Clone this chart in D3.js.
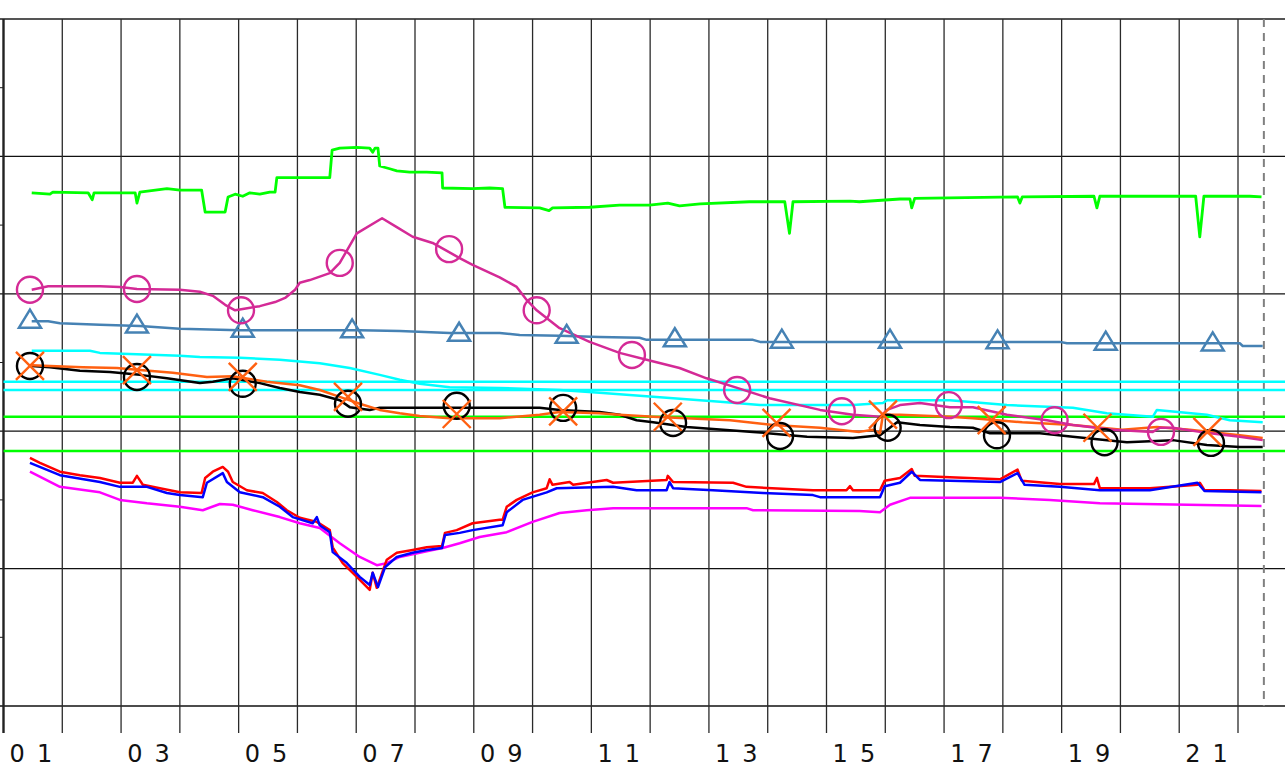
<!DOCTYPE html>
<meta charset="utf-8">
<style>
body { margin: 0; background: #fff; }
svg { display: block; }
.grid line { stroke: #1a1a1a; stroke-width: 1; }
.series { fill: none; stroke-width: 2.5; stroke-linejoin: round; }
.lbl { font: 24px "DejaVu Sans"; letter-spacing: 12px; fill: #111; }
</style>
<svg width="1285" height="768"></svg>
<script src="https://cdn.jsdelivr.net/npm/d3@7/dist/d3.min.js"></script>
<script>
// values: [day, value]
var dayTicks = d3.range(1, 23);
var dayLabels = ["01","03","05","07","09","11","13","15","17","19","21"];
var labelDays = [1,3,5,7,9,11,13,15,17,19,21];
var majorY = [0, 20, 40, 60, 80, 100];
var minorY = [10, 30, 50, 70, 90];
var nowDay = 22.44;
var cyanRefs = [47.2, 46.0];
var greenRefs = [42.1, 37.1];

var greenTop = [[1.48,74.7],[1.79,74.5],[1.84,74.8],[2.44,74.7],[2.51,73.7],[2.54,74.7],[3.24,74.7],[3.27,73.2],[3.32,74.8],
  [3.78,75.3],[4.00,75.1],[4.37,75.1],[4.43,71.9],[4.77,71.9],[4.82,74.1],[4.94,74.5],[5.07,74.2],[5.19,74.7],[5.36,74.5],
  [5.53,74.8],[5.62,74.8],[5.65,76.9],[6.04,76.9],[6.55,76.9],[6.59,80.9],[6.72,81.2],[7.01,81.3],[7.23,81.2],[7.28,80.6],
  [7.32,81.2],[7.37,81.2],[7.40,78.6],[7.57,78.2],[7.69,77.9],[7.91,77.7],[8.20,77.7],[8.46,77.6],[8.47,75.4],[8.98,75.3],
  [9.27,75.4],[9.49,75.3],[9.53,72.6],[10.12,72.5],[10.28,72.1],[10.34,72.5],[10.97,72.6],[11.48,72.9],[11.99,72.9],
  [12.30,73.2],[12.50,72.8],[12.85,73.1],[13.69,73.4],[14.29,73.4],[14.37,68.8],[14.43,73.4],[15.40,73.5],[15.56,73.4],
  [16.25,73.8],[16.42,73.8],[16.45,72.5],[16.50,73.9],[18.25,74.1],[18.29,73.2],[18.33,74.1],[19.55,74.2],[19.60,72.5],
  [19.65,74.2],[21.28,74.2],[21.35,68.3],[21.42,74.2],[22.20,74.2],[22.40,74.1]];

var pinkLine = [[1.48,60.6],[1.76,61.1],[1.96,61.1],[2.64,61.1],[2.98,61.0],[3.27,60.7],[4.00,60.6],[4.34,60.3],[4.56,59.7],
  [4.77,58.4],[4.94,57.6],[5.07,57.8],[5.36,58.2],[5.62,58.8],[5.79,59.4],[5.96,60.6],[6.04,61.6],[6.21,62.0],[6.55,63.0],
  [6.72,64.5],[7.01,68.8],[7.44,71.0],[7.69,69.7],[7.96,68.3],[8.30,67.4],[8.76,65.2],[8.98,64.2],[9.44,62.4],[9.73,61.0],
  [9.90,59.1],[10.07,57.6],[10.46,55.0],[10.97,53.0],[11.48,51.4],[11.94,50.4],[12.50,49.2],[12.96,47.7],[13.48,46.3],
  [14.03,44.8],[14.89,43.1],[15.45,42.4],[15.91,42.1],[16.03,43.1],[16.25,43.8],[16.59,44.1],[17.10,43.5],[17.49,43.5],
  [18.07,42.4],[18.75,41.6],[19.19,40.9],[19.87,40.2],[20.55,39.9],[20.67,40.5],[20.89,40.5],[21.35,39.9],[22.03,39.2],[22.42,38.7]];
var pinkMarks = [[1.45,60.6],[3.27,60.7],[5.04,57.6],[6.72,64.5],[8.58,66.5],[10.07,57.6],[11.69,51.1],[13.48,46.0],
  [15.26,42.9],[17.08,43.8],[18.88,41.6],[20.69,39.9]];

var steelLine = [[1.48,56.0],[1.76,56.0],[1.96,55.7],[2.64,55.5],[3.32,55.3],[4.00,54.9],[5.02,54.7],[6.04,54.7],[7.06,54.7],
  [7.74,54.6],[8.59,54.3],[9.44,54.3],[9.78,54.0],[10.46,53.9],[11.14,53.7],[11.82,53.6],[11.94,53.3],[13.75,53.3],[13.87,53.0],
  [18.97,53.0],[19.09,52.8],[22.03,52.8],[22.08,52.4],[22.42,52.4]];
var steelMarks = [[1.45,56.3],[3.27,55.6],[5.07,55.0],[6.93,54.9],[8.75,54.4],[10.58,54.1],[12.42,53.6],[14.24,53.4],
  [16.08,53.4],[17.91,53.3],[19.75,53.1],[21.57,53.0]];

var cyanLine = [[1.48,51.7],[2.47,51.7],[2.64,51.4],[3.27,51.2],[4.00,51.0],[4.34,50.8],[5.02,50.7],[5.70,50.4],[6.38,49.9],
  [6.89,49.2],[7.40,48.2],[7.74,47.5],[8.08,46.9],[8.59,46.4],[9.44,46.3],[10.46,46.0],[11.14,45.6],[12.05,45.0],[13.19,44.3],
  [13.87,43.8],[15.45,43.8],[15.96,44.1],[16.03,44.5],[17.10,44.5],[18.07,43.8],[19.19,43.4],[19.77,42.6],[20.55,42.1],
  [20.62,43.1],[21.47,42.4],[21.86,41.6],[22.42,41.3]];

var orangeLine = [[1.48,49.6],[1.79,49.5],[2.35,49.3],[2.93,49.2],[3.32,48.9],[3.88,48.5],[4.46,47.9],[4.90,48.0],[5.48,47.2],
  [6.04,46.7],[6.38,46.0],[6.72,45.0],[7.06,44.0],[7.40,43.1],[7.74,42.6],[8.08,42.2],[8.59,41.9],[9.44,41.9],[10.12,42.4],
  [10.46,42.8],[11.14,42.6],[11.48,42.4],[12.05,42.1],[13.36,41.6],[14.09,40.9],[14.89,40.5],[15.56,39.9],[15.79,40.2],
  [15.91,39.7],[15.96,42.4],[16.25,42.4],[17.10,42.1],[17.49,41.9],[18.33,41.3],[19.19,40.9],[20.03,40.2],[20.62,40.6],
  [21.18,40.2],[22.03,39.4],[22.42,39.0]];
var orangeMarks = [[1.45,49.5],[3.27,48.9],[5.07,47.9],[6.86,45.0],[8.71,42.5],[10.52,42.9],[12.30,42.1],[14.15,41.2],
  [15.96,42.4],[17.81,41.6],[19.61,40.5],[21.48,39.9]];

var blackLine = [[1.48,49.5],[1.79,49.3],[2.30,48.8],[2.81,48.6],[3.32,48.2],[3.78,47.7],[4.34,47.0],[4.56,47.2],[4.90,47.7],
  [5.36,47.0],[5.70,46.3],[6.04,45.7],[6.38,45.3],[6.72,44.5],[6.89,43.5],[7.23,43.1],[7.40,43.4],[8.59,43.4],[10.12,43.4],
  [10.46,43.1],[11.14,42.8],[11.48,42.4],[11.77,41.6],[12.05,41.3],[12.62,40.6],[13.75,39.9],[14.67,39.2],[15.45,39.0],
  [15.91,39.4],[16.20,41.3],[16.59,40.9],[17.10,40.6],[17.49,40.5],[17.78,39.7],[18.63,39.7],[19.19,39.2],[20.11,38.4],
  [20.89,38.7],[21.47,38.0],[22.03,37.7],[22.42,37.7]];
var blackMarks = [[1.45,49.5],[3.27,47.9],[5.07,46.9],[6.86,44.0],[8.71,43.7],[10.52,43.4],[12.39,41.2],[14.21,39.3],
  [16.04,40.5],[17.90,39.4],[19.73,38.4],[21.54,38.3]];

var redLine = [[1.45,36.1],[1.62,35.4],[1.96,34.1],[2.30,33.6],[2.64,33.2],[2.98,32.5],[3.20,32.5],[3.27,33.5],[3.37,32.2],
  [3.66,31.7],[4.00,31.1],[4.37,31.0],[4.43,33.2],[4.56,34.1],[4.73,34.8],[4.82,34.1],[4.90,32.6],[5.14,31.4],[5.41,31.0],
  [5.65,29.7],[5.82,28.5],[6.04,27.4],[6.33,26.8],[6.55,25.6],[6.60,23.1],[6.77,20.8],[7.01,18.8],[7.23,16.9],[7.28,19.4],
  [7.35,17.2],[7.52,21.3],[7.69,22.3],[7.96,22.7],[8.20,23.1],[8.46,23.3],[8.51,25.2],[8.71,25.6],[8.98,26.6],[9.44,27.1],
  [9.49,27.1],[9.56,29.0],[9.73,30.0],[10.00,31.1],[10.24,31.7],[10.29,33.0],[10.34,32.2],[10.63,32.6],[10.69,32.2],
  [11.26,32.9],[11.37,32.5],[12.28,32.9],[12.30,33.5],[12.39,32.6],[13.41,32.5],[13.64,31.9],[14.77,31.4],[15.34,31.4],
  [15.40,32.0],[15.45,31.4],[15.91,31.4],[15.99,32.8],[16.25,33.2],[16.45,34.5],[16.50,33.5],[17.10,33.3],[17.95,33.0],
  [18.25,34.4],[18.32,32.8],[18.97,32.3],[19.55,32.3],[19.60,33.2],[19.65,31.7],[20.50,31.7],[21.31,32.2],[21.35,32.5],
  [21.43,31.4],[21.86,31.4],[22.40,31.3]];

var blueLine = [[1.45,35.4],[1.96,33.6],[2.64,32.6],[2.98,31.9],[3.44,31.9],[3.78,31.0],[4.00,30.7],[4.39,30.4],[4.46,32.5],
  [4.73,33.9],[4.80,32.6],[5.02,31.1],[5.41,30.4],[5.70,29.0],[5.92,27.5],[6.26,26.6],[6.33,27.5],[6.38,26.3],[6.55,25.3],
  [6.60,22.4],[6.84,20.8],[7.06,18.8],[7.23,17.6],[7.28,19.4],[7.37,17.3],[7.49,20.2],[7.69,21.7],[7.96,22.3],[8.20,22.7],
  [8.46,23.0],[8.51,24.9],[8.76,25.2],[8.98,25.6],[9.49,26.3],[9.56,28.2],[9.83,30.0],[10.24,31.1],[10.41,31.7],[11.37,31.9],
  [11.77,31.4],[12.28,31.4],[12.33,32.6],[12.39,31.7],[13.07,31.4],[13.92,31.0],[14.77,30.7],[14.89,30.4],[15.91,30.4],
  [15.99,32.0],[16.25,32.5],[16.45,34.1],[16.59,32.9],[17.95,32.6],[18.25,33.9],[18.37,32.2],[18.97,31.9],[19.65,31.4],
  [20.50,31.4],[21.31,32.5],[21.43,31.3],[22.40,31.1]];

var magentaLine = [[1.45,34.1],[1.96,31.9],[2.64,31.1],[2.98,30.0],[3.44,29.5],[4.00,29.0],[4.39,28.5],[4.68,29.4],[4.90,29.3],
  [5.24,28.5],[5.70,27.5],[6.04,26.6],[6.38,25.9],[6.72,23.7],[7.06,21.7],[7.35,20.5],[7.52,20.8],[7.74,21.7],[8.30,22.7],
  [8.47,23.0],[8.76,23.7],[9.10,24.6],[9.56,25.3],[10.00,26.8],[10.46,28.1],[10.92,28.5],[11.37,28.8],[12.28,28.8],
  [13.64,28.8],[13.75,28.5],[15.56,28.4],[15.91,28.2],[16.08,29.3],[16.42,30.3],[17.95,30.3],[18.80,30.0],[19.65,29.5],[22.40,29.1]];

var svg = d3.select("svg"),
    x = d3.scaleLinear().domain([1, 22]).range([3.5, 1238]),
    y = d3.scaleLinear().domain([0, 100]).range([706, 19]),
    W = 1285;

var grid = svg.append("g").attr("class", "grid");

grid.selectAll(".hmaj").data(majorY)
  .enter().append("line")
    .attr("x1", 0).attr("x2", W)
    .attr("y1", function(d) { return y(d); }).attr("y2", function(d) { return y(d); })
    .style("stroke-width", function(d) { return d == 100 ? 2 : 1.3; })
    .style("stroke", function(d) { return d == 100 ? "#555" : "#111"; });

grid.selectAll(".hmin").data(minorY)
  .enter().append("line")
    .attr("x1", 0).attr("x2", x(1))
    .attr("y1", function(d) { return y(d); }).attr("y2", function(d) { return y(d); });

grid.selectAll(".v").data(dayTicks)
  .enter().append("line")
    .attr("x1", function(d) { return x(d); }).attr("x2", function(d) { return x(d); })
    .attr("y1", y(100)).attr("y2", y(0) + 27)
    .style("stroke-width", function(d) { return d == 1 ? 2.4 : 1.3; })
    .style("stroke", function(d) { return d == 1 ? "#222" : "#2a2a2a"; });

svg.append("line")
    .attr("x1", x(nowDay)).attr("x2", x(nowDay))
    .attr("y1", y(100)).attr("y2", y(0))
    .style("stroke", "#808080").style("stroke-width", 2)
    .style("stroke-dasharray", "8,6");

svg.selectAll(".lbl").data(labelDays)
  .enter().append("text")
    .attr("class", "lbl")
    .attr("x", function(d) { return x(d + 0.5); })
    .attr("dx", 4)
    .attr("y", 762)
    .attr("text-anchor", "middle")
    .text(function(d, i) { return dayLabels[i]; });

// reference levels
svg.selectAll(".cref").data(cyanRefs)
  .enter().append("line")
    .attr("x1", x(1)).attr("x2", W)
    .attr("y1", function(d) { return y(d); }).attr("y2", function(d) { return y(d); })
    .style("stroke", "#00ffff").style("stroke-width", 2.5);
svg.selectAll(".gref").data(greenRefs)
  .enter().append("line")
    .attr("x1", x(1)).attr("x2", W)
    .attr("y1", function(d) { return y(d); }).attr("y2", function(d) { return y(d); })
    .style("stroke", "#00ff00").style("stroke-width", 2.5);

var line = d3.line()
    .x(function(d) { return x(d[0]); })
    .y(function(d) { return y(d[1]); });

var series = [
  {data: magentaLine, color: "#ff00ff"},
  {data: redLine, color: "#ff0000"},
  {data: blueLine, color: "#0000ff"},
  {data: greenTop, color: "#00ff00"},
  {data: cyanLine, color: "#00ffff"},
  {data: steelLine, color: "#4682b4"},
  {data: blackLine, color: "#000000"},
  {data: orangeLine, color: "#ff6011"},
  {data: pinkLine, color: "#d42a96"}
];

svg.selectAll(".series").data(series)
  .enter().append("path")
    .attr("class", "series")
    .attr("d", function(d) { return line(d.data); })
    .style("stroke", function(d) { return d.color; })
    .style("stroke-width", function(d) { return d.color == "#00ff00" ? 2.8 : 2.5; });

// markers
svg.selectAll(".tri").data(steelMarks)
  .enter().append("path")
    .attr("transform", function(d) { return "translate(" + x(d[0]) + "," + y(d[1]) + ")"; })
    .attr("d", "M0,-9.5L11,8.5L-11,8.5Z")
    .style("fill", "none").style("stroke", "#4682b4").style("stroke-width", 2.5);

svg.selectAll(".bc").data(blackMarks)
  .enter().append("circle")
    .attr("cx", function(d) { return x(d[0]); })
    .attr("cy", function(d) { return y(d[1]); })
    .attr("r", 13)
    .style("fill", "none").style("stroke", "#000").style("stroke-width", 2.4);

svg.selectAll(".pc").data(pinkMarks)
  .enter().append("circle")
    .attr("cx", function(d) { return x(d[0]); })
    .attr("cy", function(d) { return y(d[1]); })
    .attr("r", 13)
    .style("fill", "none").style("stroke", "#d42a96").style("stroke-width", 2.4);

svg.selectAll(".xm").data(orangeMarks)
  .enter().append("path")
    .attr("transform", function(d) { return "translate(" + x(d[0]) + "," + y(d[1]) + ")"; })
    .attr("d", "M-14,-14L14,14M-14,14L14,-14")
    .style("fill", "none").style("stroke", "#ff6011").style("stroke-width", 2.4);
</script>
